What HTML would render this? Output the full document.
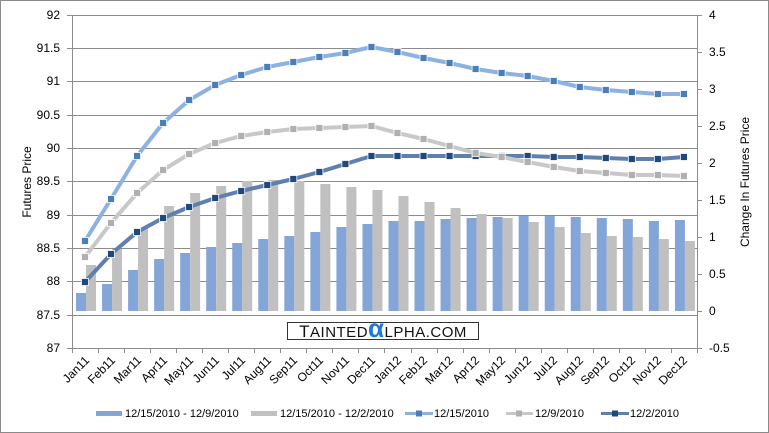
<!DOCTYPE html>
<html><head><meta charset="utf-8"><style>
html,body{margin:0;padding:0;background:#fff}
svg{display:block;font-family:"Liberation Sans",sans-serif}
</style></head><body>
<svg id="s" width="769" height="433" viewBox="0 0 769 433" xmlns="http://www.w3.org/2000/svg">
<rect x="0.5" y="0.5" width="768" height="432" fill="#fff" stroke="#8a8a8a"/>
<g id="grid" stroke="#8c8c8c" stroke-width="1"></g>
<g id="bars"></g>
<g id="lines"></g>
<line x1="72.5" y1="15" x2="72.5" y2="348" stroke="#8c8c8c"/>
<line x1="697.5" y1="15" x2="697.5" y2="348" stroke="#8c8c8c"/>
<g font-size="12" fill="#000" text-anchor="end">
<text x="60" y="19">92</text><text x="60" y="52">91.5</text><text x="60" y="85">91</text><text x="60" y="119">90.5</text><text x="60" y="152">90</text><text x="60" y="185">89.5</text><text x="60" y="219">89</text><text x="60" y="252">88.5</text><text x="60" y="285">88</text><text x="60" y="319">87.5</text><text x="60" y="352">87</text>
</g>
<g font-size="12" fill="#000" text-anchor="start">
<text x="709" y="19">4</text><text x="709" y="56">3.5</text><text x="709" y="93">3</text><text x="709" y="130">2.5</text><text x="709" y="167">2</text><text x="709" y="204">1.5</text><text x="709" y="241">1</text><text x="709" y="278">0.5</text><text x="709" y="315">0</text><text x="709" y="352">-0.5</text>
</g>
<text transform="translate(31,182) rotate(-90)" font-size="12" text-anchor="middle">Futures Price</text>
<text transform="translate(749,182) rotate(-90)" font-size="12" text-anchor="middle">Change In Futures Price</text>
<g font-size="12" text-anchor="end">
<text transform="translate(90,361) rotate(-45)">Jan11</text>
<text transform="translate(116,361) rotate(-45)">Feb11</text>
<text transform="translate(142,361) rotate(-45)">Mar11</text>
<text transform="translate(168,361) rotate(-45)">Apr11</text>
<text transform="translate(194,361) rotate(-45)">May11</text>
<text transform="translate(220,361) rotate(-45)">Jun11</text>
<text transform="translate(246,361) rotate(-45)">Jul11</text>
<text transform="translate(272,361) rotate(-45)">Aug11</text>
<text transform="translate(298,361) rotate(-45)">Sep11</text>
<text transform="translate(324,361) rotate(-45)">Oct11</text>
<text transform="translate(350,361) rotate(-45)">Nov11</text>
<text transform="translate(376,361) rotate(-45)">Dec11</text>
<text transform="translate(402,361) rotate(-45)">Jan12</text>
<text transform="translate(428,361) rotate(-45)">Feb12</text>
<text transform="translate(454,361) rotate(-45)">Mar12</text>
<text transform="translate(480,361) rotate(-45)">Apr12</text>
<text transform="translate(506,361) rotate(-45)">May12</text>
<text transform="translate(532,361) rotate(-45)">Jun12</text>
<text transform="translate(558,361) rotate(-45)">Jul12</text>
<text transform="translate(584,361) rotate(-45)">Aug12</text>
<text transform="translate(610,361) rotate(-45)">Sep12</text>
<text transform="translate(636,361) rotate(-45)">Oct12</text>
<text transform="translate(662,361) rotate(-45)">Nov12</text>
<text transform="translate(688,361) rotate(-45)">Dec12</text>
</g>
<rect x="287.5" y="322.5" width="191" height="17" fill="#fff" stroke="#333"/>
<text x="383" y="337" font-size="15" text-anchor="middle" letter-spacing="0.5" fill="#111"><tspan font-size="17">T</tspan>AINTED<tspan fill="#1a7ad4" font-size="26" font-weight="bold">α</tspan>LPHA.COM</text>
<g font-size="11">
<rect x="96" y="411" width="26" height="5" fill="#84a5d8"/><text x="125" y="417">12/15/2010 - 12/9/2010</text>
<rect x="251" y="411" width="26" height="5" fill="#c0c0c0"/><text x="280" y="417">12/15/2010 - 12/2/2010</text>
<line x1="405" y1="413.5" x2="433" y2="413.5" stroke="#8db2e2" stroke-width="3"/><rect x="416" y="410.5" width="6" height="6" fill="#4a7ebb"/><text x="434" y="417">12/15/2010</text>
<line x1="506" y1="413.5" x2="533" y2="413.5" stroke="#c8c8c8" stroke-width="3"/><rect x="516" y="410.5" width="6" height="6" fill="#b0b0b0"/><text x="535" y="417">12/9/2010</text>
<line x1="601" y1="413.5" x2="629" y2="413.5" stroke="#5f7fae" stroke-width="3"/><rect x="612" y="410.5" width="6" height="6" fill="#1f497d"/><text x="630" y="417">12/2/2010</text>
</g>
</svg>
<script>
(function(){
var NS="http://www.w3.org/2000/svg";
function el(p,t,a){var e=document.createElementNS(NS,t);for(var k in a)e.setAttribute(k,a[k]);p.appendChild(e);return e;}
var g=document.getElementById('grid');
[15,48,81,115,148,181,215,248,281,315,348].forEach(function(y){el(g,'line',{x1:72,x2:697,y1:y+.5,y2:y+.5});});
[15,52,89,126,163,200,237,274,311,348].forEach(function(y){el(g,'line',{x1:697,x2:702,y1:y+.5,y2:y+.5});});
[15,48,81,115,148,181,215,248,281,315,348].forEach(function(y){el(g,'line',{x1:67,x2:72,y1:y+.5,y2:y+.5});});
for(var i=0;i<=24;i++){var x=Math.round(72+26.04*i)+.5;el(g,'line',{x1:x,x2:x,y1:348,y2:353});}
var c=[];for(i=0;i<24;i++)c.push(85+26.04*i);
var bb=[293,284,270,259,253,247,243,239,236,232,227,224,221,221,219,218,217,216,216,217,218,219,221,220];
var gb=[265,249,228,206,193,186,181,180,181,184,187,190,196,202,208,214,218,222,227,233,236,237,239,241];
var b=document.getElementById('bars');
for(i=0;i<24;i++){
el(b,'rect',{x:c[i]-9,y:bb[i],width:10,height:311-bb[i],fill:'#84a5d8'});
el(b,'rect',{x:c[i]+1,y:gb[i],width:10,height:311-gb[i],fill:'#c0c0c0'});}
var L=document.getElementById('lines');
function series(ys,lc,mc){
var d='';for(var i=0;i<24;i++)d+=(i?'L':'M')+c[i].toFixed(1)+','+ys[i];
el(L,'path',{d:d,fill:'none',stroke:lc,'stroke-width':4,'stroke-linejoin':'round'});
for(i=0;i<24;i++)el(L,'rect',{x:c[i]-3.5,y:ys[i]-3.5,width:7,height:7,fill:mc,stroke:'#fff','stroke-width':0.8});}
series([282,254,232,218,207,198,191,185,179,172,164,156,156,156,156,156,156,156,157,157,158,159,159,157],'#5f7fae','#1f497d');
series([257,223,193,170,154,143,136,132,129,128,127,126,133,139,146,153,157,162,167,171,173,175,175,176],'#c8c8c8','#b0b0b0');
series([241,199,156,123,100,85,75,67,62,57,53,47,52,58,63,69,73,76,81,87,90,92,94,94],'#8db2e2','#4a7ebb');
})();
</script>
</body></html>
